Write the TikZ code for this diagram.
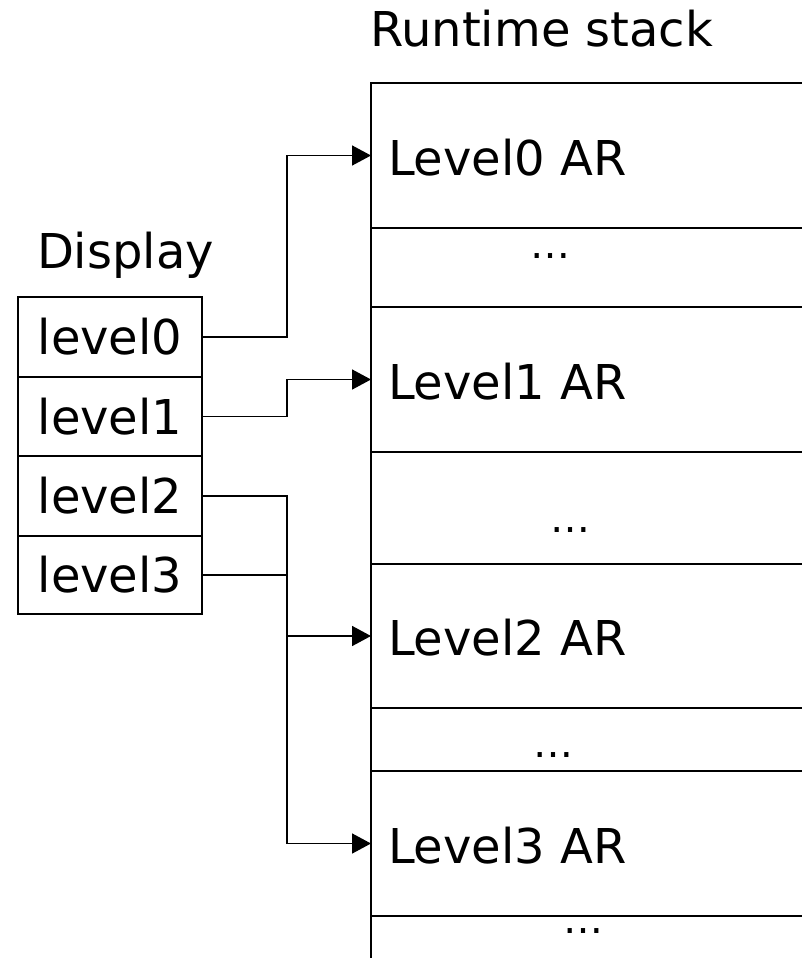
\documentclass[tikz,border=0pt]{standalone}
\usepackage{fontspec}
\setmainfont{DejaVu Sans}
\usetikzlibrary{arrows.meta}
\begin{document}
\begin{tikzpicture}[x=1pt,y=-1pt,
  every node/.style={font=\fontsize{48}{58}\selectfont, inner sep=0pt, outer sep=0pt},
  slot/.style={draw, line width=1.9pt, minimum width=184pt, anchor=north west},
  stackcell/.style={draw, line width=1.9pt, minimum width=470pt, anchor=north west},
  artext/.style={anchor=base west},
  gap/.style={anchor=base, font=\fontsize{40}{48}\selectfont},
  pointer/.style={line width=1.6pt, -{Triangle[length=19pt,width=20pt]}}]

\useasboundingbox (0,0) rectangle (801,958);

% titles
\node[artext] (ttlstack) at (370,47) {Runtime stack};
\node[artext] (ttldisp) at (37,268) {Display};

% display array
\node[slot, minimum height=80pt] (r0) at (18,297) {level0};
\node[slot, minimum height=79pt] (r1) at (18,377) {level1};
\node[slot, minimum height=80pt] (r2) at (18,456) {level2};
\node[slot, minimum height=78pt] (r3) at (18,536) {level3};

% runtime stack cells (open to the right and bottom)
\node[stackcell, minimum height=145pt] (c0) at (371,83) {};
\node[stackcell, minimum height=79pt]  (d0) at (371,228) {};
\node[stackcell, minimum height=145pt] (c1) at (371,307) {};
\node[stackcell, minimum height=112pt] (d1) at (371,452) {};
\node[stackcell, minimum height=144pt] (c2) at (371,564) {};
\node[stackcell, minimum height=63pt]  (d2) at (371,708) {};
\node[stackcell, minimum height=145pt] (c3) at (371,771) {};
\node[stackcell, minimum height=84pt]  (d3) at (371,916) {};

% activation record labels
\node[artext] (t0) at (388,175) {Level0 AR};
\node[artext] (t1) at (388,399) {Level1 AR};
\node[artext] (t2) at (388,655) {Level2 AR};
\node[artext] (t3) at (388,863) {Level3 AR};

\node[gap] (g0) at (550,258) {…};
\node[gap] (g1) at (570,532) {…};
\node[gap] (g2) at (553,757) {…};
\node[gap] (g3) at (583,933) {…};

% display links
\draw[pointer] (r0.east) -- ++(85,0) |- (c0.west);
\draw[pointer] (r1.east) -- ++(85,0) |- (c1.west);
\draw[pointer] (r2.east) -- ++(85,0) |- (c2.west);
\draw[pointer] (r3.east) -- ++(85,0) |- (c3.west);
\end{tikzpicture}
\end{document}
